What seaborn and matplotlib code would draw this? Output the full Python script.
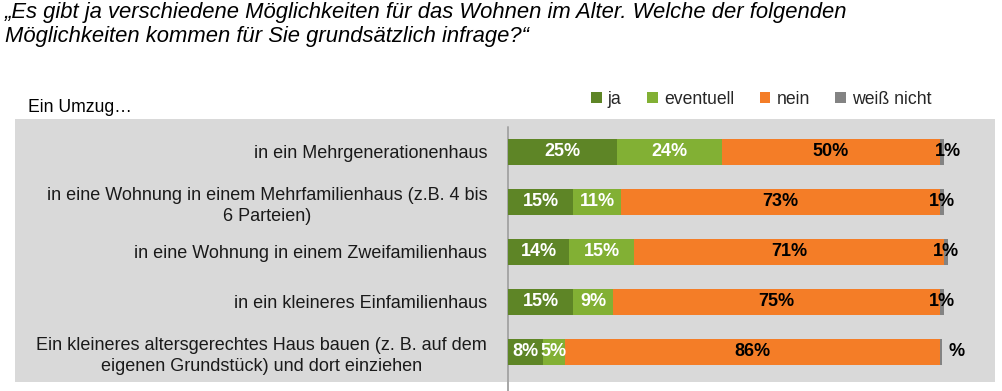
import matplotlib
matplotlib.use("Agg")
import matplotlib.pyplot as plt
import seaborn as sns
import numpy as np
from matplotlib.patches import Rectangle, Patch
from matplotlib.lines import Line2D

# --- data ---
categories = [
    "in ein Mehrgenerationenhaus",
    "in eine Wohnung in einem Mehrfamilienhaus (z.B. 4 bis\n6 Parteien)",
    "in eine Wohnung in einem Zweifamilienhaus",
    "in ein kleineres Einfamilienhaus",
    "Ein kleineres altersgerechtes Haus bauen (z. B. auf dem\neigenen Grundstück) und dort einziehen",
]
ja = [25, 15, 14, 15, 8]
eventuell = [24, 11, 15, 9, 5]
nein = [50, 73, 71, 75, 86]
weiss_nicht = [1, 1, 1, 1, 0.6]
weiss_nicht_labels = ["1%", "1%", "1%", "1%", "%"]

series_names = ["ja", "eventuell", "nein", "weiß nicht"]
colors = ["#5E8526", "#82B034", "#F47D27", "#838383"]
text_colors = ["white", "white", "black", "black"]

sns.set_theme(style="white")
plt.rcParams["font.family"] = ["Liberation Sans", "DejaVu Sans"]

W, H = 1002, 391
fig = plt.figure(figsize=(W / 100, H / 100), dpi=100)

def fx(px):
    return px / W

def fy(py):
    return 1 - py / H

# grey panel behind the bars
fig.patches.append(Rectangle((fx(15), fy(382)), fx(995) - fx(15), fy(119) - fy(382),
                             transform=fig.transFigure, facecolor="#D9D9D9",
                             edgecolor="none", zorder=-5))

ax = fig.add_axes([fx(508), fy(383), fx(1000) - fx(508), fy(119) - fy(383)])
ax.set_facecolor("none")
ax.set_zorder(2)

values = np.array([ja, eventuell, nein, weiss_nicht], dtype=float)
cum = values.cumsum(axis=0)

# overlay cumulative bars, longest first
for i in range(len(series_names) - 1, -1, -1):
    sns.barplot(x=cum[i], y=categories, orient="h", color=colors[i],
                saturation=1, width=0.52, ax=ax, linewidth=0)

ax.set_xlim(0, (1000 - 508) / 4.36)
ax.set_ylim(4.62, -0.66)
for s in ax.spines.values():
    s.set_visible(False)
ax.set_xticks([])
ax.set_xlabel("")
ax.set_ylabel("")
ax.tick_params(axis="y", length=0, pad=15, labelsize=13, labelcolor="#1a1a1a")
for lab in ax.get_yticklabels():
    lab.set_multialignment("center")
    lab.set_linespacing(1.3)

# segment labels
wn_shift = [1.5, 0, 0, 0, 3.5]
for j in range(len(categories)):
    start = 0
    for i in range(len(series_names)):
        v = values[i, j]
        if i == 3:
            txt = weiss_nicht_labels[j]
            xpos = start + v / 2 + wn_shift[j]
        else:
            txt = f"{int(v)}%"
            xpos = start + v / 2
        ax.text(xpos, j, txt, ha="center", va="center", color=text_colors[i],
                fontsize=13, fontweight="bold")
        start += v

# axis line at zero
fig.lines.append(Line2D([fx(508), fx(508)], [fy(127), 0], transform=fig.transFigure,
                        color="#A6A6A6", linewidth=1.4, zorder=1))

# title
fig.text(fx(5), fy(18), "„Es gibt ja verschiedene Möglichkeiten für das Wohnen im Alter. Welche der folgenden",
         fontsize=15.8, style="italic", va="baseline", ha="left", color="black")
fig.text(fx(5), fy(42), "Möglichkeiten kommen für Sie grundsätzlich infrage?“",
         fontsize=15.8, style="italic", va="baseline", ha="left", color="black")

fig.text(fx(28), fy(112), "Ein Umzug…", fontsize=12.7, va="baseline", ha="left", color="black")

# legend
handles = [Patch(facecolor=c, edgecolor="none") for c in colors]
fig.legend(handles, series_names, loc="center left", bbox_to_anchor=(fx(591), fy(99)),
           ncol=4, frameon=False, fontsize=12.7, handlelength=0.6, handleheight=0.6,
           handletextpad=0.35, columnspacing=1.45, borderpad=0, borderaxespad=0)

plt.savefig("out.png", dpi=100)
